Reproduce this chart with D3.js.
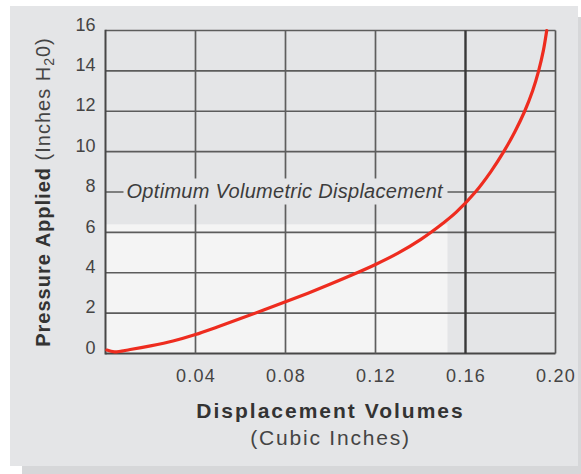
<!DOCTYPE html>
<html>
<head>
<meta charset="utf-8">
<script src="https://cdn.jsdelivr.net/npm/d3@7"></script>
<style>
  html, body { margin: 0; padding: 0; background: #ffffff; }
  svg { display: block; }
  text { font-family: "Liberation Sans", Arial, Helvetica, sans-serif; }
</style>
</head>
<body>
<svg id="chart" width="581" height="474"></svg>
<script>
// ---- data ----
const displacement = [0.0006, 0.004, 0.011, 0.02, 0.03, 0.04, 0.05, 0.06, 0.07, 0.08, 0.09, 0.10, 0.11, 0.12, 0.13, 0.14, 0.15, 0.1559, 0.1644, 0.1712, 0.177, 0.182, 0.1863, 0.1898, 0.1925, 0.1946, 0.1961];
const pressure     = [0.17,   0.08,  0.2,   0.38, 0.62, 0.94, 1.33, 1.73, 2.14, 2.56, 2.99, 3.44, 3.91, 4.41, 4.97, 5.64, 6.45, 7.0,    8.0,    9.0,    10.0,  11.0,  12.0,   13.0,   14.0,   15.0,   16.0];
const xTicks = [0.04, 0.08, 0.12, 0.16, 0.20];
const yTicks = [0, 2, 4, 6, 8, 10, 12, 14, 16];
const xDomain = [0, 0.20];
const yDomain = [0, 16];
const optimumX = 0.152;   // light "optimum" zone right edge
const optimumY = 6.4;     // light "optimum" zone top
const optimumLineY = 8;   // labelled reference line
const optimumLabel = "Optimum Volumetric Displacement";
const xTitle = "Displacement Volumes";
const xSubTitle = "(Cubic Inches)";

// ---- layout ----
const svg = d3.select("#chart");
const W = 581, H = 474;
const x = d3.scaleLinear().domain(xDomain).range([105.5, 555.5]);
const y = d3.scaleLinear().domain(yDomain).range([353.5, 30.5]);

// shadow + panel
svg.append("rect").attr("x", 22).attr("y", 17).attr("width", W - 22).attr("height", H - 17).attr("fill", "#d6d7d9");
svg.append("rect").attr("x", 10).attr("y", 6).attr("width", 568).attr("height", 460).attr("fill", "#e4e5e7");

// optimum zone
svg.append("rect")
  .attr("x", x(0)).attr("y", y(optimumY))
  .attr("width", x(optimumX) - x(0)).attr("height", y(0) - y(optimumY))
  .attr("fill", "#f4f4f4");

const grid = svg.append("g");
// horizontal gridlines
grid.selectAll("line.h").data(yTicks).join("line")
  .attr("x1", x(xDomain[0])).attr("x2", x(xDomain[1]))
  .attr("y1", d => y(d)).attr("y2", d => y(d))
  .attr("stroke", d => d === 0 ? "#474747" : "#5c5c5c")
  .attr("stroke-width", d => d === 0 ? 2 : 1.7);
// vertical gridlines
grid.selectAll("line.v").data(xTicks).join("line")
  .attr("x1", d => x(d)).attr("x2", d => x(d))
  .attr("y1", y(yDomain[1])).attr("y2", y(0))
  .attr("stroke", d => d === 0.16 ? "#383838" : (d === 0.20 ? "#555" : "#5e5e5e"))
  .attr("stroke-width", d => d === 0.16 ? 2.4 : 1.7);
// left border
grid.append("line")
  .attr("x1", x(0)).attr("x2", x(0)).attr("y1", y(16) - 0.8).attr("y2", y(0) + 1)
  .attr("stroke", "#474747").attr("stroke-width", 2);

// optimum label with background knockout
const lbl = svg.append("g");
lbl.append("rect")
  .attr("x", x(0) + 18).attr("y", y(optimumLineY) - 13.5)
  .attr("width", 324).attr("height", 26)
  .attr("fill", "#e4e5e7");
lbl.append("text")
  .attr("x", x(0) + 21).attr("y", y(optimumLineY) + 6)
  .attr("font-size", 20).attr("font-style", "italic")
  .attr("letter-spacing", 0.3)
  .attr("fill", "#3c3c3c")
  .text(optimumLabel);

// curve
const pts = displacement.map((d, i) => [d, pressure[i]]);
const line = d3.line().x(d => x(d[0])).y(d => y(d[1])).curve(d3.curveCatmullRom.alpha(0.5));
svg.append("path").datum(pts)
  .attr("d", line)
  .attr("fill", "none")
  .attr("stroke", "#ee2c1f")
  .attr("stroke-width", 3.2)
  .attr("stroke-linecap", "round");

// axes (labels only)
const xAxis = d3.axisBottom(x).tickValues(xTicks).tickSize(0).tickPadding(0).tickFormat(d3.format(".2f"));
const gx = svg.append("g").attr("transform", `translate(0, ${y(0) + 28})`).call(xAxis);
gx.select(".domain").remove();
gx.selectAll("text").attr("font-size", 18).attr("letter-spacing", 1.2).attr("fill", "#444")
  .attr("font-family", "'Liberation Sans', Arial, sans-serif").attr("dy", 0).attr("y", 0);

const yAxis = d3.axisLeft(y).tickValues(yTicks).tickSize(0).tickPadding(10).tickFormat(d3.format("d"));
const gy = svg.append("g").attr("transform", `translate(${x(0)}, 0)`).call(yAxis);
gy.select(".domain").remove();
gy.selectAll("text").attr("font-size", 18).attr("fill", "#444")
  .attr("font-family", "'Liberation Sans', Arial, sans-serif").attr("dy", "-0.02em");

// axis titles
svg.append("text")
  .attr("x", (x(0) + x(0.2)) / 2).attr("y", 418)
  .attr("text-anchor", "middle").attr("font-size", 21).attr("font-weight", "bold")
  .attr("letter-spacing", 2).attr("fill", "#333")
  .text(xTitle);
svg.append("text")
  .attr("x", (x(0) + x(0.2)) / 2).attr("y", 445)
  .attr("text-anchor", "middle").attr("font-size", 21)
  .attr("letter-spacing", 1.8).attr("fill", "#444")
  .text(xSubTitle);

const yt = svg.append("text")
  .attr("transform", "translate(50, 192) rotate(-90)")
  .attr("text-anchor", "middle").attr("font-size", 20).attr("fill", "#333")
  .attr("letter-spacing", 1);
yt.append("tspan").attr("font-weight", "bold").text("Pressure Applied ");
yt.append("tspan").attr("fill", "#444").text("(Inches H");
yt.append("tspan").attr("fill", "#444").attr("font-size", 14).attr("baseline-shift", "-25%").text("2");
yt.append("tspan").attr("fill", "#444").attr("baseline-shift", "0%").text("0)");
</script>
</body>
</html>
